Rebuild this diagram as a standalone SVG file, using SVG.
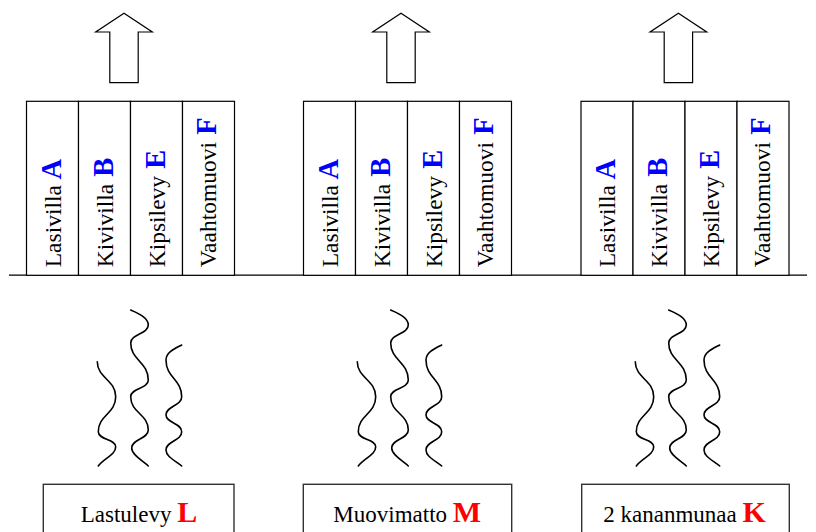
<svg xmlns="http://www.w3.org/2000/svg" xmlns:xlink="http://www.w3.org/1999/xlink" width="816" height="532" viewBox="0 0 816 532">
  <style>
    .panel { fill: #ffffff; stroke: #000000; stroke-width: 1.2; }
    .source { fill: #ffffff; stroke: #333333; stroke-width: 1.4; }
    .ground { stroke: #000000; stroke-width: 1.3; fill: none; }
    .lift { fill: #ffffff; stroke: #000000; stroke-width: 1.2; stroke-linejoin: miter; }
    .wave { fill: none; stroke: #000000; stroke-width: 1.6; stroke-linecap: round; }
    .lbl { font-family: "Liberation Serif", "Times New Roman", serif; font-size: 23px; fill: #000000; }
    .vlbl { font-size: 23.5px; }
    .mat { font-weight: bold; font-size: 28.5px; fill: #0000ff; }
    .src { font-weight: bold; font-size: 30px; fill: #ff0000; }
  </style>
  <defs>
    <!-- four insulation panels standing on the floor line, origin at the left panel's top-left -->
    <g id="panelSet">
      <rect class="panel" x="0" y="0" width="52" height="174"/>
      <rect class="panel" x="52" y="0" width="52" height="174"/>
      <rect class="panel" x="104" y="0" width="52" height="174"/>
      <rect class="panel" x="156" y="0" width="52" height="174"/>
      <text class="lbl vlbl" transform="translate(34,166) rotate(-90)">Lasivilla<tspan class="mat"> A</tspan></text>
      <text class="lbl vlbl" transform="translate(86,166) rotate(-90)">Kivivilla<tspan class="mat"> B</tspan></text>
      <text class="lbl vlbl" transform="translate(138,166) rotate(-90)">Kipsilevy<tspan class="mat"> E</tspan></text>
      <text class="lbl vlbl" transform="translate(189,166) rotate(-90)">Vaahtomuovi<tspan class="mat"> F</tspan></text>
    </g>
    <!-- hollow upward arrow, origin at its tip -->
    <polygon id="upArrow" class="lift" points="-14.2,69.4 -14.2,18.7 -28.3,18.7 0,0 28.3,18.7 14.2,18.7 14.2,69.4"/>
    <!-- three rising heat waves -->
    <g id="heat">
      <path class="wave" d="M97.3,361.7 C97.3,378 115.7,380 115.7,396.7 C115.7,414 98.3,415 98.3,431.7 C98.3,440 115.7,439 115.7,446.7 C115.7,455 104,458 98.3,466"/>
      <path class="wave" d="M130.7,310 C137,313 148.3,317 148.3,325 C148.3,334 130.7,334 130.7,343 C130.7,360 148.3,362 148.3,380 C148.3,389 130.7,388 130.7,396.7 C130.7,413 148.3,414 148.3,430 C148.3,439 131.7,439 131.7,448 C131.7,455 143,461 148.3,466"/>
      <path class="wave" d="M181.7,345 C176,348 166,352 166,360 C166,378 181.7,379 181.7,396.7 C181.7,406 166,406 166,415 C166,423 181.7,423 181.7,431.7 C181.7,441 166,441 166,450 C166,457 176,461 181.7,466"/>
    </g>
  </defs>

  <!-- floor line -->
  <g id="floor">
    <line class="ground" x1="9" y1="275.2" x2="807" y2="275.2"/>
  </g>

  <!-- wall stacks -->
  <g id="stack-1"><use xlink:href="#panelSet" transform="translate(26.5,101.3)"/></g>
  <g id="stack-2"><use xlink:href="#panelSet" transform="translate(303.5,101.3)"/></g>
  <g id="stack-3"><use xlink:href="#panelSet" transform="translate(581,101.3)"/></g>

  <!-- heat sources -->
  <g id="source-L">
    <rect class="source" x="43.3" y="484.3" width="190.7" height="60"/>
    <text class="lbl" x="80.7" y="521.7">Lastulevy <tspan class="src">L</tspan></text>
  </g>
  <g id="source-M">
    <rect class="source" x="303.3" y="484.3" width="208.4" height="60"/>
    <text class="lbl" x="333.3" y="521.7">Muovimatto <tspan class="src">M</tspan></text>
  </g>
  <g id="source-K">
    <rect class="source" x="581.7" y="484.3" width="207.6" height="60"/>
    <text class="lbl" x="603.3" y="521.7">2 kananmunaa <tspan class="src">K</tspan></text>
  </g>

  <!-- heat flow: waves rising from the sources, arrows leaving through the walls -->
  <g id="connectors">
    <use xlink:href="#heat"/>
    <use xlink:href="#heat" transform="translate(260,0)"/>
    <use xlink:href="#heat" transform="translate(538,0)"/>
    <use xlink:href="#upArrow" transform="translate(124,13.3)"/>
    <use xlink:href="#upArrow" transform="translate(401,13.3)"/>
    <use xlink:href="#upArrow" transform="translate(678.4,13.3)"/>
  </g>
</svg>
